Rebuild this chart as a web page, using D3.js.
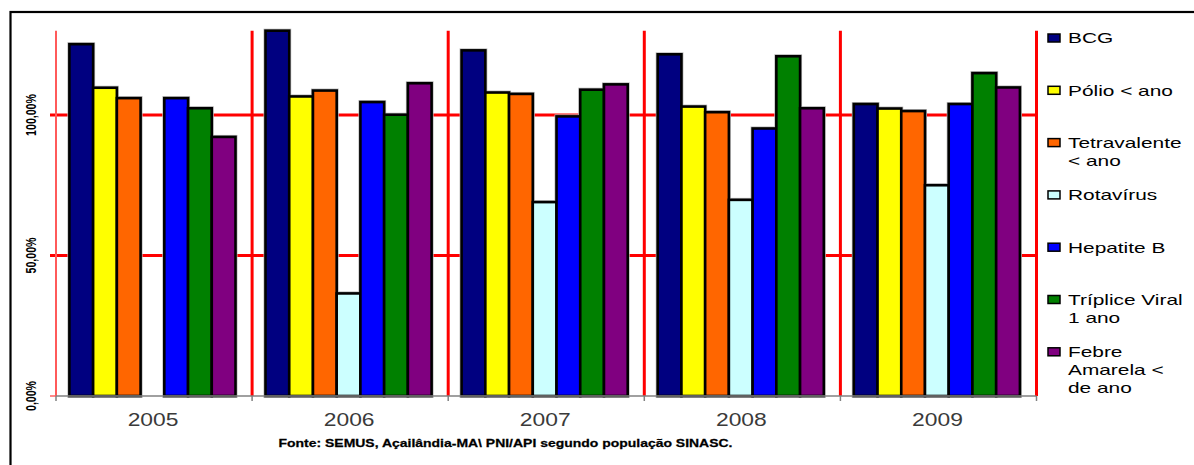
<!DOCTYPE html>
<html>
<head>
<meta charset="utf-8">
<script src="https://cdn.jsdelivr.net/npm/d3@7"></script>
<style>
  html, body { margin: 0; padding: 0; background: #fff; }
  svg { display: block; }
  text { font-family: "Liberation Sans", Arial, sans-serif; }
</style>
</head>
<body>
<svg id="chart" width="1194" height="465"></svg>
<script>
// Cobertura vacinal por ano (%)
const years = ["2005", "2006", "2007", "2008", "2009"];
const seriesNames = ["BCG", "Pólio < ano", "Tetravalente < ano", "Rotavírus", "Hepatite B", "Tríplice Viral 1 ano", "Febre Amarela < de ano"];
const legendLines = [["BCG"], ["Pólio < ano"], ["Tetravalente", "< ano"], ["Rotavírus"], ["Hepatite B"], ["Tríplice Viral", "1 ano"], ["Febre", "Amarela <", "de ano"]];
const seriesColors = ["#000080", "#ffff00", "#ff6600", "#ccffff", "#0000ff", "#008000", "#800080"];

const bcg        = [125.2, 130.0, 123.0, 121.6, 103.9];
const polio      = [109.7, 106.6, 108.0, 103.0, 102.3];
const tetra      = [106.0, 108.7, 107.5, 101.0, 101.4];
const rotavirus  = [null,   36.5,  69.0,  69.8,  75.0];
const hepatiteB  = [106.0, 104.6,  99.5,  95.2, 103.9];
const triplice   = [102.4, 100.1, 109.0, 120.9, 114.9];
const febre      = [ 92.2, 111.3, 110.9, 102.4, 109.8];
const seriesValues = [bcg, polio, tetra, rotavirus, hepatiteB, triplice, febre];

const yTicks = [0, 50, 100];
const yTickLabels = ["0,00%", "50,00%", "100,00%"];
const sourceNote = "Fonte: SEMUS, Açailândia-MA\\ PNI/API segundo população SINASC.";

const svg = d3.select("#chart");
const plot = { left: 56, right: 1036.5, top: 30.7, bottom: 396 };
const stretch = 1.27; // horizontal widening of the lettering

const x = d3.scaleBand().domain(years).range([plot.left, plot.right]).padding(0);
const xInner = d3.scaleBand().domain(d3.range(seriesNames.length))
  .range([13.4, x.bandwidth() - 16.6]).padding(0);
const y = d3.scaleLinear().domain([0, 130]).range([plot.bottom, plot.top]);

// outer frame
svg.append("rect").attr("x", 10.5).attr("y", 12).attr("width", 1300).attr("height", 600)
  .attr("fill", "none").attr("stroke", "#000").attr("stroke-width", 2.2);

// horizontal red gridlines with left ticks
svg.append("g").selectAll("line").data(yTicks.filter(d => d > 0)).join("line")
  .attr("x1", plot.left - 6).attr("x2", plot.right)
  .attr("y1", d => y(d)).attr("y2", d => y(d))
  .attr("stroke", "#ff0000").attr("stroke-width", 2.8);
svg.append("line").attr("x1", plot.left - 6).attr("x2", plot.left)
  .attr("y1", y(0)).attr("y2", y(0)).attr("stroke", "#ff6060").attr("stroke-width", 1.5);

// vertical red gridlines at the year boundaries
const bounds = years.map(d => x(d)).concat([plot.right]);
svg.append("g").selectAll("line").data(bounds).join("line")
  .attr("x1", d => d).attr("x2", d => d)
  .attr("y1", plot.top).attr("y2", plot.bottom)
  .attr("stroke", (d, i) => i === 0 ? "#ff5a5a" : "#ff0000")
  .attr("stroke-width", (d, i) => i === 0 ? 2 : 3);

// bars
const bars = [];
years.forEach((yr, i) => {
  seriesValues.forEach((vals, s) => {
    if (vals[i] != null) bars.push({ year: yr, s, v: vals[i] });
  });
});
const barG = svg.append("g");
barG.selectAll("rect.halo").data(bars).join("rect")
  .attr("class", "halo")
  .attr("x", d => x(d.year) + xInner(d.s))
  .attr("y", d => y(d.v))
  .attr("width", xInner.bandwidth())
  .attr("height", d => y(0) - y(d.v))
  .attr("fill", "none").attr("stroke", "#b8b8b8").attr("stroke-width", 4);
barG.selectAll("rect.bar").data(bars).join("rect")
  .attr("class", "bar")
  .attr("x", d => x(d.year) + xInner(d.s))
  .attr("y", d => y(d.v))
  .attr("width", xInner.bandwidth())
  .attr("height", d => y(0) - y(d.v))
  .attr("fill", d => seriesColors[d.s])
  .attr("stroke", "#000").attr("stroke-width", 2.6);

// x axis line and ticks
svg.append("line").attr("x1", plot.left).attr("x2", plot.right)
  .attr("y1", plot.bottom).attr("y2", plot.bottom)
  .attr("stroke", "#808080").attr("stroke-width", 1.5);
svg.append("g").selectAll("line").data(bounds).join("line")
  .attr("x1", d => d).attr("x2", d => d)
  .attr("y1", plot.bottom).attr("y2", plot.bottom + 5)
  .attr("stroke", "#808080").attr("stroke-width", 1.5);

// year labels
svg.append("g").selectAll("text").data(years).join("text")
  .attr("transform", d => `translate(${x(d) + x.bandwidth() / 2 - 1},426) scale(${stretch},1)`)
  .attr("text-anchor", "middle").attr("font-size", 18).attr("fill", "#3a3a3a")
  .text(d => d);

// y tick labels, rotated
svg.append("g").selectAll("text").data(yTicks).join("text")
  .attr("transform", d => `translate(35.8,${y(d)}) scale(1.4,1) rotate(-90)`)
  .attr("text-anchor", "middle").attr("font-size", 10.6).attr("font-weight", "bold")
  .attr("fill", "#000")
  .text((d, i) => yTickLabels[i]);

// source note
svg.append("text")
  .attr("transform", `translate(505.5,446.5) scale(${stretch},1)`)
  .attr("text-anchor", "middle").attr("font-size", 11).attr("font-weight", "bold")
  .attr("fill", "#000").attr("stroke", "#000").attr("stroke-width", 0.25)
  .text(sourceNote);

// legend
const legend = svg.append("g");
const item = legend.selectAll("g").data(seriesNames).join("g")
  .attr("transform", (d, i) => `translate(1048,${38 + i * 52.3})`);
item.append("rect").attr("x", 0).attr("y", -4).attr("width", 12).attr("height", 8)
  .attr("fill", (d, i) => seriesColors[i]).attr("stroke", "#000").attr("stroke-width", 1.5);
const label = item.append("text")
  .attr("transform", "translate(20,5.3) scale(1.39,1)")
  .attr("font-size", 15).attr("fill", "#000");
label.selectAll("tspan").data((d, i) => legendLines[i]).join("tspan")
  .attr("x", 0).attr("dy", (d, j) => j === 0 ? 0 : 18)
  .text(d => d);
</script>
</body>
</html>
